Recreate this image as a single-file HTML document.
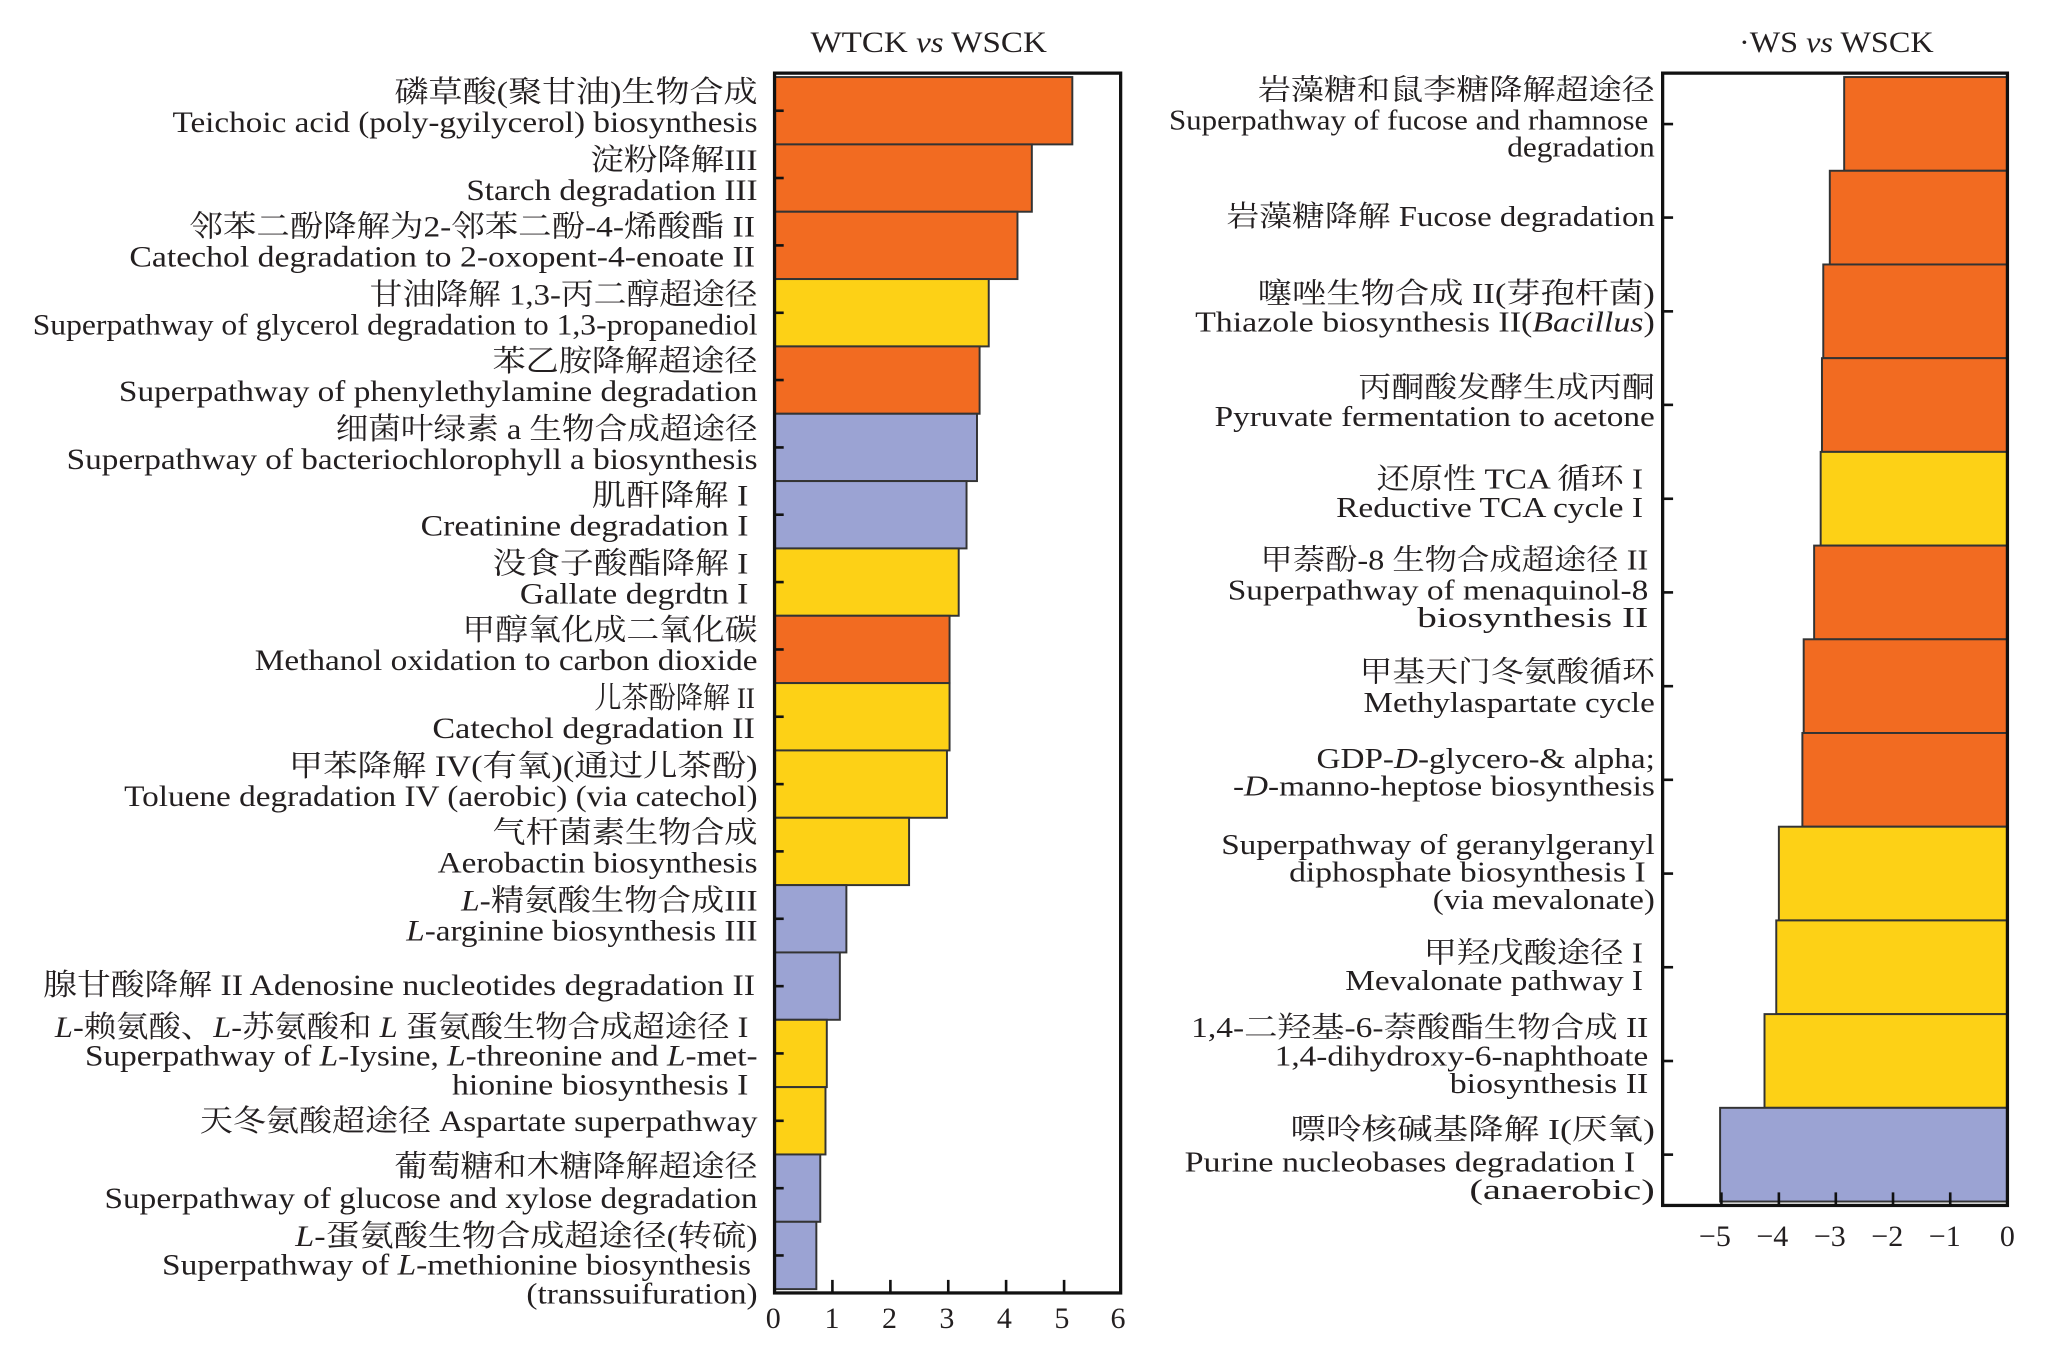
<!DOCTYPE html>
<html><head><meta charset="utf-8"><style>
html,body{margin:0;padding:0;background:#fff;}
svg{display:block;}
text{font-family:"Liberation Serif","Noto Serif CJK SC","Noto Sans CJK SC",serif;fill:#231f20;}
.l{font-size:23px;text-anchor:end;}
.r{font-size:22px;text-anchor:end;}
.t{font-size:21px;text-anchor:middle;}
i{font-style:italic}
</style></head><body>
<svg width="2048" height="1370" viewBox="0 0 1568 1049" xmlns="http://www.w3.org/2000/svg">
<rect width="1568" height="1049" fill="#fff"/>
<!-- titles -->
<text x="711" y="40" style="font-size:23px;text-anchor:middle" textLength="181" lengthAdjust="spacingAndGlyphs">WTCK <tspan font-style="italic">vs</tspan> WSCK</text>
<text x="1406" y="40" style="font-size:23px;text-anchor:middle" textLength="149" lengthAdjust="spacingAndGlyphs">·WS <tspan font-style="italic">vs</tspan> WSCK</text>

<!-- LEFT bars -->
<g stroke="#333" stroke-width="1.5">
<rect x="593" y="59" width="228" height="51.56" fill="#F26B21"/>
<rect x="593" y="110.56" width="197" height="51.56" fill="#F26B21"/>
<rect x="593" y="162.12" width="186" height="51.56" fill="#F26B21"/>
<rect x="593" y="213.68" width="164" height="51.56" fill="#FDD116"/>
<rect x="593" y="265.24" width="157" height="51.56" fill="#F26B21"/>
<rect x="593" y="316.8" width="155" height="51.56" fill="#9BA3D3"/>
<rect x="593" y="368.36" width="147" height="51.56" fill="#9BA3D3"/>
<rect x="593" y="419.92" width="141" height="51.56" fill="#FDD116"/>
<rect x="593" y="471.48" width="134" height="51.56" fill="#F26B21"/>
<rect x="593" y="523.04" width="134" height="51.56" fill="#FDD116"/>
<rect x="593" y="574.6" width="132" height="51.56" fill="#FDD116"/>
<rect x="593" y="626.16" width="103" height="51.56" fill="#FDD116"/>
<rect x="593" y="677.72" width="55" height="51.56" fill="#9BA3D3"/>
<rect x="593" y="729.28" width="50" height="51.56" fill="#9BA3D3"/>
<rect x="593" y="780.84" width="40" height="51.56" fill="#FDD116"/>
<rect x="593" y="832.4" width="39" height="51.56" fill="#FDD116"/>
<rect x="593" y="883.96" width="35" height="51.56" fill="#9BA3D3"/>
<rect x="593" y="935.52" width="32" height="51.56" fill="#9BA3D3"/>
</g>
<rect x="593" y="56" width="265" height="934" fill="none" stroke="#111" stroke-width="2.5"/>
<g stroke="#111" stroke-width="2">
<line x1="593" y1="84.8" x2="600" y2="84.8"/><line x1="593" y1="136.3" x2="600" y2="136.3"/><line x1="593" y1="187.9" x2="600" y2="187.9"/><line x1="593" y1="239.5" x2="600" y2="239.5"/><line x1="593" y1="291" x2="600" y2="291"/><line x1="593" y1="342.6" x2="600" y2="342.6"/><line x1="593" y1="394.1" x2="600" y2="394.1"/><line x1="593" y1="445.7" x2="600" y2="445.7"/><line x1="593" y1="497.3" x2="600" y2="497.3"/><line x1="593" y1="548.8" x2="600" y2="548.8"/><line x1="593" y1="600.4" x2="600" y2="600.4"/><line x1="593" y1="651.9" x2="600" y2="651.9"/><line x1="593" y1="703.5" x2="600" y2="703.5"/><line x1="593" y1="755.1" x2="600" y2="755.1"/><line x1="593" y1="806.6" x2="600" y2="806.6"/><line x1="593" y1="858.2" x2="600" y2="858.2"/><line x1="593" y1="909.8" x2="600" y2="909.8"/><line x1="593" y1="961.3" x2="600" y2="961.3"/>
<line x1="637.3" y1="990" x2="637.3" y2="980"/><line x1="681.7" y1="990" x2="681.7" y2="980"/><line x1="726" y1="990" x2="726" y2="980"/><line x1="770.3" y1="990" x2="770.3" y2="980"/><line x1="814.7" y1="990" x2="814.7" y2="980"/>
</g>
<g style="font-size:23px;text-anchor:middle">
<text x="592" y="1017">0</text><text x="637" y="1017">1</text><text x="681" y="1017">2</text><text x="725" y="1017">3</text><text x="769" y="1017">4</text><text x="813" y="1017">5</text><text x="856" y="1017">6</text>
</g>

<!-- LEFT labels -->
<g class="l">
<text x="580" y="78" textLength="278" lengthAdjust="spacingAndGlyphs">磷草酸(聚甘油)生物合成</text>
<text x="580" y="101" textLength="448" lengthAdjust="spacingAndGlyphs">Teichoic acid (poly-gyilycerol) biosynthesis</text>
<text x="580" y="130" textLength="128" lengthAdjust="spacingAndGlyphs">淀粉降解III</text>
<text x="580" y="153" textLength="223" lengthAdjust="spacingAndGlyphs">Starch degradation III</text>
<text x="578" y="181" textLength="433" lengthAdjust="spacingAndGlyphs">邻苯二酚降解为2-邻苯二酚-4-烯酸酯 II</text>
<text x="578" y="204" textLength="479" lengthAdjust="spacingAndGlyphs">Catechol degradation to 2-oxopent-4-enoate  II</text>
<text x="580" y="233" textLength="297" lengthAdjust="spacingAndGlyphs">甘油降解 1,3-丙二醇超途径</text>
<text x="580" y="256" textLength="555" lengthAdjust="spacingAndGlyphs">Superpathway of glycerol degradation to 1,3-propanediol</text>
<text x="580" y="284" textLength="203" lengthAdjust="spacingAndGlyphs">苯乙胺降解超途径</text>
<text x="580" y="307" textLength="489" lengthAdjust="spacingAndGlyphs">Superpathway of phenylethylamine degradation</text>
<text x="580" y="336" textLength="323" lengthAdjust="spacingAndGlyphs">细菌叶绿素 a 生物合成超途径</text>
<text x="580" y="359" textLength="529" lengthAdjust="spacingAndGlyphs">Superpathway of bacteriochlorophyll a biosynthesis</text>
<text x="573" y="387" textLength="120" lengthAdjust="spacingAndGlyphs">肌酐降解 I</text>
<text x="573" y="410" textLength="251" lengthAdjust="spacingAndGlyphs">Creatinine degradation I</text>
<text x="573" y="439" textLength="196" lengthAdjust="spacingAndGlyphs">没食子酸酯降解 I</text>
<text x="573" y="462" textLength="175" lengthAdjust="spacingAndGlyphs">Gallate degrdtn I</text>
<text x="580" y="490" textLength="226" lengthAdjust="spacingAndGlyphs">甲醇氧化成二氧化碳</text>
<text x="580" y="513" textLength="385" lengthAdjust="spacingAndGlyphs">Methanol oxidation to carbon dioxide</text>
<text x="578" y="542" textLength="123" lengthAdjust="spacingAndGlyphs">儿茶酚降解 II</text>
<text x="578" y="565" textLength="247" lengthAdjust="spacingAndGlyphs">Catechol degradation  II</text>
<text x="580" y="594" textLength="359" lengthAdjust="spacingAndGlyphs">甲苯降解 IV(有氧)(通过儿茶酚)</text>
<text x="580" y="617" textLength="485" lengthAdjust="spacingAndGlyphs">Toluene degradation IV (aerobic) (via catechol)</text>
<text x="580" y="645" textLength="203" lengthAdjust="spacingAndGlyphs">气杆菌素生物合成</text>
<text x="580" y="668" textLength="245" lengthAdjust="spacingAndGlyphs">Aerobactin biosynthesis</text>
<text x="580" y="697" textLength="227" lengthAdjust="spacingAndGlyphs"><tspan font-style="italic">L</tspan>-精氨酸生物合成III</text>
<text x="580" y="720" textLength="269" lengthAdjust="spacingAndGlyphs"><tspan font-style="italic">L</tspan>-arginine biosynthesis III</text>
<text x="578" y="762" textLength="545" lengthAdjust="spacingAndGlyphs">腺甘酸降解 II  Adenosine nucleotides degradation  II</text>
<text x="573" y="794" textLength="531" lengthAdjust="spacingAndGlyphs"><tspan font-style="italic">L</tspan>-赖氨酸、<tspan font-style="italic">L</tspan>-苏氨酸和 <tspan font-style="italic">L</tspan> 蛋氨酸生物合成超途径 I</text>
<text x="580" y="816" textLength="515" lengthAdjust="spacingAndGlyphs">Superpathway of <tspan font-style="italic">L</tspan>-Iysine, <tspan font-style="italic">L</tspan>-threonine and <tspan font-style="italic">L</tspan>-met-</text>
<text x="573" y="838" textLength="227" lengthAdjust="spacingAndGlyphs">hionine biosynthesis I</text>
<text x="580" y="866" textLength="427" lengthAdjust="spacingAndGlyphs">天冬氨酸超途径 Aspartate superpathway</text>
<text x="580" y="901" textLength="278" lengthAdjust="spacingAndGlyphs">葡萄糖和木糖降解超途径</text>
<text x="580" y="925" textLength="500" lengthAdjust="spacingAndGlyphs">Superpathway of glucose and xylose degradation</text>
<text x="580" y="954" textLength="354" lengthAdjust="spacingAndGlyphs"><tspan font-style="italic">L</tspan>-蛋氨酸生物合成超途径(转硫)</text>
<text x="575" y="976" textLength="451" lengthAdjust="spacingAndGlyphs">Superpathway of <tspan font-style="italic">L</tspan>-methionine biosynthesis</text>
<text x="580" y="998" textLength="177" lengthAdjust="spacingAndGlyphs">(transsuifuration)</text>
</g>

<!-- RIGHT bars -->
<g stroke="#333" stroke-width="1.5">
<rect x="1412" y="59" width="125" height="71.75" fill="#F26B21"/>
<rect x="1401" y="130.75" width="136" height="71.75" fill="#F26B21"/>
<rect x="1396" y="202.5" width="141" height="71.75" fill="#F26B21"/>
<rect x="1395" y="274.25" width="142" height="71.75" fill="#F26B21"/>
<rect x="1394" y="346" width="143" height="71.75" fill="#FDD116"/>
<rect x="1389" y="417.75" width="148" height="71.75" fill="#F26B21"/>
<rect x="1381" y="489.5" width="156" height="71.75" fill="#F26B21"/>
<rect x="1380" y="561.25" width="157" height="71.75" fill="#F26B21"/>
<rect x="1362" y="633" width="175" height="71.75" fill="#FDD116"/>
<rect x="1360" y="704.75" width="177" height="71.75" fill="#FDD116"/>
<rect x="1351" y="776.5" width="186" height="71.75" fill="#FDD116"/>
<rect x="1317" y="848.25" width="220" height="71.75" fill="#9BA3D3"/>
</g>
<rect x="1273" y="56" width="264" height="867" fill="none" stroke="#111" stroke-width="2.5"/>
<g stroke="#111" stroke-width="2">
<line x1="1273" y1="95" x2="1281" y2="95"/><line x1="1273" y1="166.6" x2="1281" y2="166.6"/><line x1="1273" y1="238.4" x2="1281" y2="238.4"/><line x1="1273" y1="310" x2="1281" y2="310"/><line x1="1273" y1="381.9" x2="1281" y2="381.9"/><line x1="1273" y1="453.6" x2="1281" y2="453.6"/><line x1="1273" y1="525.4" x2="1281" y2="525.4"/><line x1="1273" y1="597.1" x2="1281" y2="597.1"/><line x1="1273" y1="668.9" x2="1281" y2="668.9"/><line x1="1273" y1="740.6" x2="1281" y2="740.6"/><line x1="1273" y1="812.4" x2="1281" y2="812.4"/><line x1="1273" y1="884.1" x2="1281" y2="884.1"/>
<line x1="1318" y1="923" x2="1318" y2="913"/><line x1="1362" y1="923" x2="1362" y2="913"/><line x1="1405.6" y1="923" x2="1405.6" y2="913"/><line x1="1449.4" y1="923" x2="1449.4" y2="913"/><line x1="1493.2" y1="923" x2="1493.2" y2="913"/>
</g>
<g style="font-size:23px;text-anchor:middle">
<text x="1313" y="954">−5</text><text x="1357" y="954">−4</text><text x="1401" y="954">−3</text><text x="1445" y="954">−2</text><text x="1489" y="954">−1</text><text x="1537" y="954">0</text>
</g>

<!-- RIGHT labels -->
<g class="r">
<text x="1267" y="76" textLength="304" lengthAdjust="spacingAndGlyphs">岩藻糖和鼠李糖降解超途径</text>
<text x="1262" y="99" textLength="367" lengthAdjust="spacingAndGlyphs">Superpathway of fucose and rhamnose</text>
<text x="1267" y="120" textLength="113" lengthAdjust="spacingAndGlyphs">degradation</text>
<text x="1267" y="173" textLength="328" lengthAdjust="spacingAndGlyphs">岩藻糖降解 Fucose degradation</text>
<text x="1267" y="232" textLength="304" lengthAdjust="spacingAndGlyphs">噻唑生物合成 II(芽孢杆菌)</text>
<text x="1267" y="254" textLength="352" lengthAdjust="spacingAndGlyphs">Thiazole biosynthesis  II(<tspan font-style="italic">Bacillus</tspan>)</text>
<text x="1267" y="304" textLength="227" lengthAdjust="spacingAndGlyphs">丙酮酸发酵生成丙酮</text>
<text x="1267" y="326" textLength="337" lengthAdjust="spacingAndGlyphs">Pyruvate fermentation to acetone</text>
<text x="1258" y="374" textLength="204" lengthAdjust="spacingAndGlyphs">还原性 TCA 循环 I</text>
<text x="1258" y="396" textLength="235" lengthAdjust="spacingAndGlyphs">Reductive TCA cycle I</text>
<text x="1262" y="436" textLength="297" lengthAdjust="spacingAndGlyphs">甲萘酚-8 生物合成超途径 II</text>
<text x="1262" y="459" textLength="322" lengthAdjust="spacingAndGlyphs">Superpathway of menaquinol-8</text>
<text x="1262" y="480" textLength="177" lengthAdjust="spacingAndGlyphs">biosynthesis  II</text>
<text x="1267" y="522" textLength="226" lengthAdjust="spacingAndGlyphs">甲基天门冬氨酸循环</text>
<text x="1267" y="545" textLength="223" lengthAdjust="spacingAndGlyphs">Methylaspartate cycle</text>
<text x="1267" y="588" textLength="259" lengthAdjust="spacingAndGlyphs">GDP-<tspan font-style="italic">D</tspan>-glycero-&amp; alpha;</text>
<text x="1267" y="609" textLength="323" lengthAdjust="spacingAndGlyphs">-<tspan font-style="italic">D</tspan>-manno-heptose biosynthesis</text>
<text x="1267" y="654" textLength="332" lengthAdjust="spacingAndGlyphs">Superpathway of geranylgeranyl</text>
<text x="1260" y="675" textLength="273" lengthAdjust="spacingAndGlyphs">diphosphate biosynthesis I</text>
<text x="1267" y="696" textLength="170" lengthAdjust="spacingAndGlyphs">(via mevalonate)</text>
<text x="1258" y="737" textLength="168" lengthAdjust="spacingAndGlyphs">甲羟戊酸途径 I</text>
<text x="1258" y="758" textLength="228" lengthAdjust="spacingAndGlyphs">Mevalonate pathway I</text>
<text x="1262" y="794" textLength="350" lengthAdjust="spacingAndGlyphs">1,4-二羟基-6-萘酸酯生物合成  II</text>
<text x="1262" y="816" textLength="286" lengthAdjust="spacingAndGlyphs">1,4-dihydroxy-6-naphthoate</text>
<text x="1262" y="837" textLength="152" lengthAdjust="spacingAndGlyphs">biosynthesis  II</text>
<text x="1267" y="872" textLength="279" lengthAdjust="spacingAndGlyphs">嘌呤核碱基降解 I(厌氧)</text>
<text x="1252" y="897" textLength="345" lengthAdjust="spacingAndGlyphs">Purine nucleobases degradation  I</text>
<text x="1267" y="918" textLength="142" lengthAdjust="spacingAndGlyphs">(anaerobic)</text>
</g>
</svg>
</body></html>
